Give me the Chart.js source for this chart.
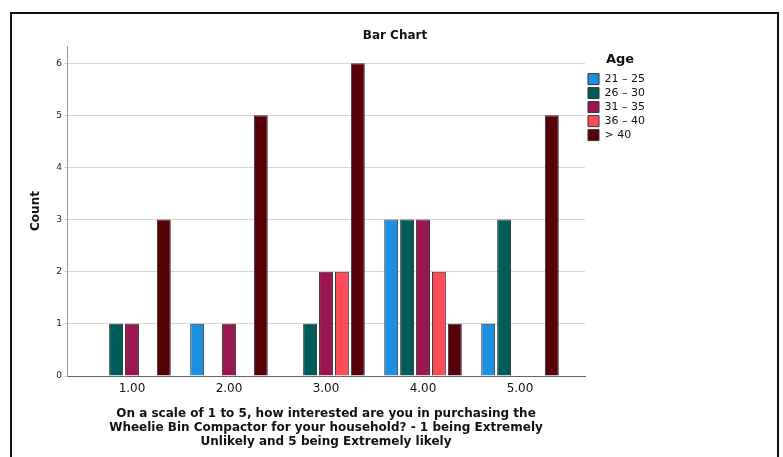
<!DOCTYPE html>
<html>
<head>
<meta charset="utf-8">
<script src="https://cdn.jsdelivr.net/npm/chart.js@4"></script>
<style>
  html, body { margin: 0; padding: 0; background: #fff; }
  #wrap { position: relative; width: 783px; height: 457px; overflow: hidden; }
  #frame {
    position: absolute; left: 10px; top: 12px; width: 769px; height: 520px;
    border: 2px solid #111; box-sizing: border-box;
  }
  #myChart { position: absolute; left: 0; top: 0; }
</style>
</head>
<body>
<div id="wrap">
  <div id="frame"></div>
  <canvas id="myChart" width="783" height="457"></canvas>
</div>
<script>
const categories = [1, 2, 3, 4, 5];
const yTicks = [0, 1, 2, 3, 4, 5, 6];
const ageGroups = ['21 – 25', '26 – 30', '31 – 35', '36 – 40', '> 40'];
const age21to25 = [0, 1, 0, 3, 1];
const age26to30 = [1, 0, 1, 3, 3];
const age31to35 = [1, 1, 2, 3, 0];
const age36to40 = [0, 0, 2, 2, 0];
const ageOver40 = [3, 5, 6, 1, 5];
const colors = ['#1d8fe1', '#005c5a', '#9a1653', '#fb4c57', '#560008'];

const series = [age21to25, age26to30, age31to35, age36to40, ageOver40];
const font = 'DejaVu Sans';

// centre the chart title over the whole frame, not just the plot + padding
const titleSpan = {
  id: 'titleSpan',
  afterLayout(chart) {
    const t = chart.titleBlock;
    if (t) {
      t.left = 11;
      t.right = 779;
      t.width = 768;
    }
  }
};

const ctx = document.getElementById('myChart').getContext('2d');

new Chart(ctx, {
  type: 'bar',
  data: {
    datasets: series.map((vals, i) => ({
      label: ageGroups[i],
      data: categories.map((c, j) => ({ x: c, y: vals[j] })),
      backgroundColor: colors[i],
      borderColor: '#333',
      borderWidth: 1,
      categoryPercentage: 0.82,
      barPercentage: 0.875
    }))
  },
  options: {
    responsive: false,
    animation: false,
    layout: { padding: { left: 0, right: 128, top: 0, bottom: 0 } },
    plugins: {
      title: {
        display: true,
        text: 'Bar Chart',
        color: '#111',
        font: { family: font, size: 12, weight: 'bold', lineHeight: 1.2 },
        padding: { top: 29, bottom: 2.6 }
      },
      legend: {
        display: true,
        position: 'right',
        align: 'start',
        fullSize: false,
        title: {
          display: true,
          text: 'Age',
          color: '#111',
          position: 'center',
          font: { family: font, size: 13, weight: 'bold', lineHeight: 1.2 },
          padding: { top: 7, bottom: 2 }
        },
        labels: {
          boxWidth: 11,
          boxHeight: 11,
          padding: 3,
          color: '#111',
          font: { family: font, size: 11 }
        }
      },
      tooltip: { enabled: false }
    },
    scales: {
      x: {
        type: 'linear',
        offset: false,
        min: 0.33,
        max: 5.67,
        afterBuildTicks: (axis) => { axis.ticks = categories.map(v => ({ value: v })); },
        afterFit: (scale) => { scale.height = 81; },
        grid: { display: false, drawTicks: false },
        border: { display: true, color: '#666', width: 1 },
        ticks: {
          padding: 6,
          color: '#111',
          font: { family: font, size: 12 },
          callback: (v) => Number(v).toFixed(2)
        },
        title: {
          display: true,
          text: [
            'On a scale of 1 to 5, how interested are you in purchasing the',
            'Wheelie Bin Compactor for your household? - 1 being Extremely',
            'Unlikely and 5 being Extremely likely'
          ],
          color: '#111',
          font: { family: font, size: 12, weight: 'bold', lineHeight: '14px' },
          padding: { top: 0, bottom: 8 }
        }
      },
      y: {
        min: 0,
        max: 6.33,
        afterBuildTicks: (axis) => { axis.ticks = yTicks.map(v => ({ value: v })); },
        afterFit: (scale) => { scale.width = 67; },
        grid: { color: '#d6d6d6', lineWidth: 1, tickLength: 3 },
        border: { display: true, color: '#999', width: 1 },
        ticks: {
          padding: 2,
          color: '#222',
          font: { family: font, size: 9 }
        },
        title: {
          display: true,
          text: 'Count',
          color: '#111',
          font: { family: font, size: 12, weight: 'bold', lineHeight: 1.2 },
          padding: { top: 29, bottom: 0 }
        }
      }
    }
  },
  plugins: [titleSpan]
});
</script>
</body>
</html>
